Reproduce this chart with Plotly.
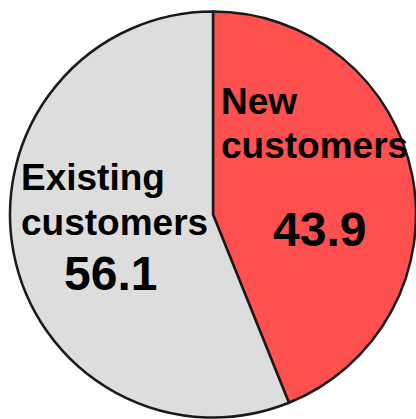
import plotly.graph_objects as go

labels = ["New customers", "Existing customers"]
values = [43.9, 56.1]
colors = ["#FF5050", "#DDDDDD"]

W, H = 416, 419

def px(x):
    return x / W

def py(y):
    return 1 - y / H

fig = go.Figure(go.Pie(
    labels=labels,
    values=values,
    sort=False,
    direction="clockwise",
    rotation=0,
    marker=dict(colors=colors, line=dict(color="#1a1a1a", width=2.5)),
    textinfo="none",
    hoverinfo="label+value",
    showlegend=False,
    domain=dict(x=[10 / W, 1.0], y=[1.5 / H, 407.5 / H]),
))

font_lbl = dict(family="Liberation Sans, Arial, sans-serif", size=37, color="black", weight="bold")
font_num = dict(family="Liberation Sans, Arial, sans-serif", size=48, color="black", weight="bold")

ann = [
    ("New", 219, 102, "left", font_lbl),
    ("customers", 219, 145, "left", font_lbl),
    (f"{values[0]:.1f}", 319, 230, "center", font_num),
    ("Existing", 19, 177, "left", font_lbl),
    ("customers", 19, 222, "left", font_lbl),
    (f"{values[1]:.1f}", 110, 273, "center", font_num),
]
for t, x, y, xa, f in ann:
    fig.add_annotation(text=t, x=px(x), y=py(y), xref="paper", yref="paper",
                       xanchor=xa, yanchor="middle", showarrow=False, font=f)

fig.update_layout(width=W, height=H, margin=dict(l=0, r=0, t=0, b=0),
                  paper_bgcolor="white", plot_bgcolor="white")
fig.write_html("out.html", config={"displayModeBar": False},
               post_script="document.body.style.margin='0';document.body.style.overflow='hidden';")
